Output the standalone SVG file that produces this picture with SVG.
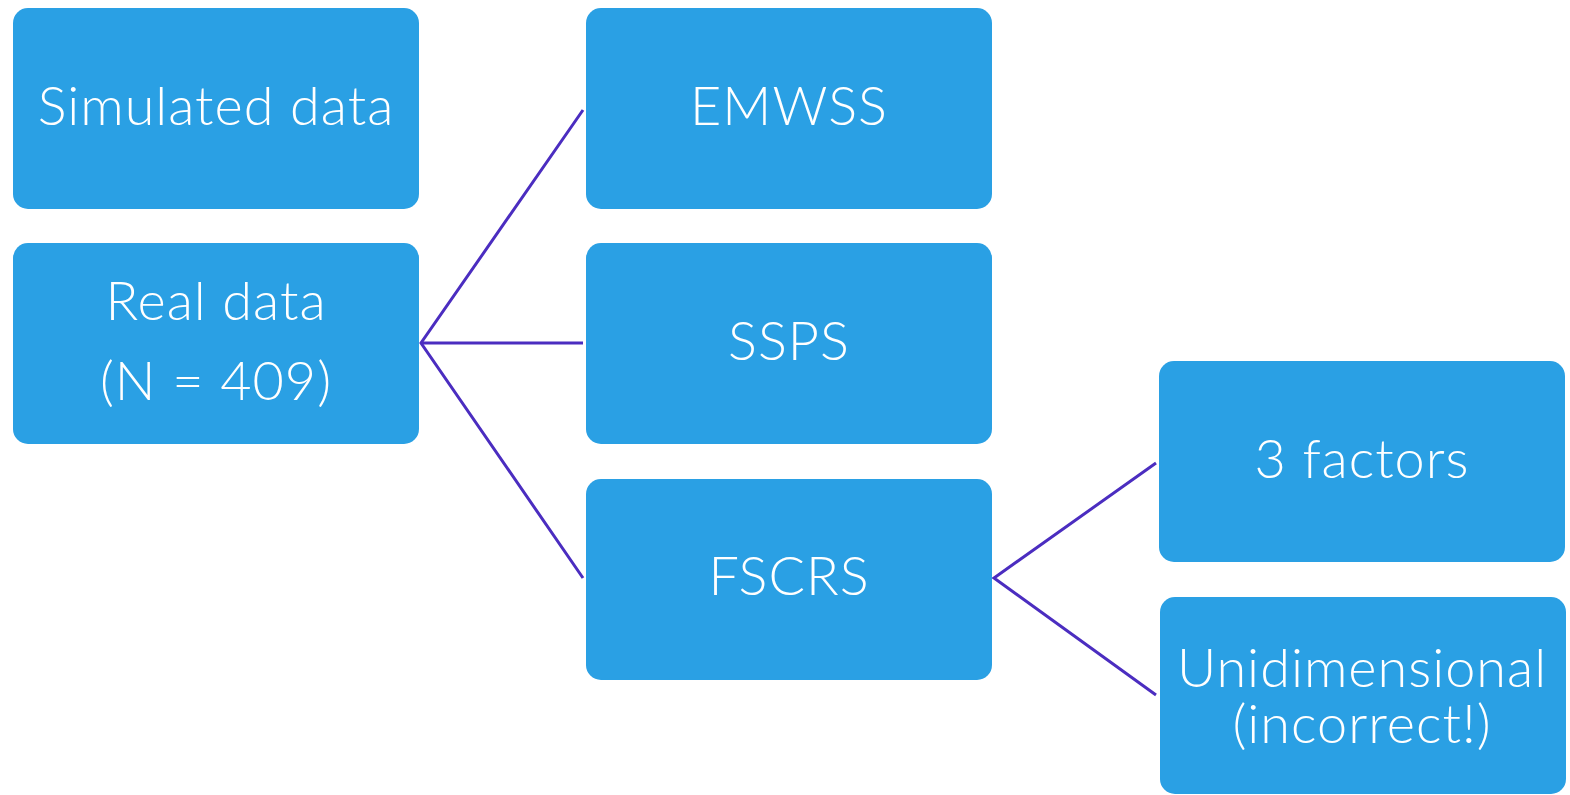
<svg xmlns="http://www.w3.org/2000/svg" width="1570" height="795" viewBox="0 0 1570 795">
<style>
.box{fill:#2aa0e4;}
.t{fill:#ffffff;font-family:Lato,"Noto Sans",sans-serif;font-size:54px;font-weight:300;letter-spacing:1px;text-anchor:middle;}
.c{stroke:#4b2dc0;stroke-width:3;fill:none;}
</style>
<rect width="1570" height="795" fill="#ffffff"/>
<g id="connectors">
<polyline class="c" points="583,110 421,343 583,578"/>
<line class="c" x1="421" y1="343" x2="583" y2="343"/>
<polyline class="c" points="1156,463 994,578 1156,695"/>
</g>
<g id="simulated"><rect class="box" x="13" y="8" width="406" height="201" rx="15"/><text class="t" x="216" y="125">Simulated data</text></g>
<g id="real"><rect class="box" x="13" y="243" width="406" height="201" rx="15"/><text class="t" x="216" y="320">Real data</text><text class="t" x="216" y="400">(N = 409)</text></g>
<g id="emwss"><rect class="box" x="586" y="8" width="406" height="201" rx="15"/><text class="t" x="789" y="125">EMWSS</text></g>
<g id="ssps"><rect class="box" x="586" y="243" width="406" height="201" rx="15"/><text class="t" x="789" y="360">SSPS</text></g>
<g id="fscrs"><rect class="box" x="586" y="479" width="406" height="201" rx="15"/><text class="t" x="789" y="595">FSCRS</text></g>
<g id="factors"><rect class="box" x="1159" y="361" width="406" height="201" rx="15"/><text class="t" x="1362" y="478">3 factors</text></g>
<g id="unidim"><rect class="box" x="1160" y="597" width="406" height="197" rx="15"/><text class="t" x="1362" y="687">Unidimensional</text><text class="t" x="1362" y="743">(incorrect!)</text></g>
</svg>
